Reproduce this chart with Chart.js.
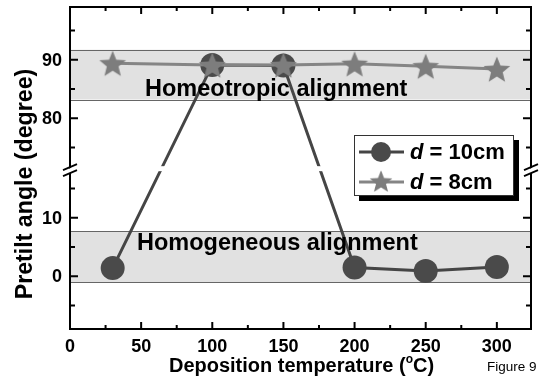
<!DOCTYPE html>
<html>
<head>
<meta charset="utf-8">
<script src="https://cdn.jsdelivr.net/npm/chart.js@4/dist/chart.umd.min.js"></script>
<style>
html,body{margin:0;padding:0;background:#fff;}
canvas{display:block;}
</style>
</head>
<body>
<canvas id="c" width="542" height="383"></canvas>
<script>
// ---- data ----
const temps = [30, 100, 150, 200, 250, 300];
const d10 = [1.4, 89.1, 89.0, 1.5, 0.9, 1.6];
const d8 = [89.4, 89.1, 89.1, 89.3, 88.9, 88.4];
const seriesLabels = ['10cm', '8cm'];
const xMajorTicks = [0, 50, 100, 150, 200, 250, 300];
const xMinorTicks = [25, 75, 125, 175, 225, 275];
const yMajorTicks = [0, 10, 80, 90];
const yMinorTicks = [-5, 5, 15, 75, 85, 95];
const bandRanges = [[-1, 7.7], [83.2, 91.7]];
const bandTexts = ['Homogeneous alignment', 'Homeotropic alignment'];
const xTitle = ['Deposition temperature (', 'o', 'C)'];
const yTitle = 'Pretilt angle (degree)';
const figLabel = 'Figure 9';

// broken axis: values above the break are shifted down
const BREAK_SPLIT = 45, BREAK_SHIFT = 53, BREAK_AT = 18.3;
const tf = v => (v > BREAK_SPLIT ? v - BREAK_SHIFT : v);

const FONT = '"Liberation Sans", Arial, Helvetica, sans-serif';
const CIRCLE_COLOR = '#4a4a4a', CIRCLE_LINE = '#454545';
const STAR_COLOR = '#7d7d7d', STAR_LINE = '#858585';

function makeStar(R, color) {
  const c = document.createElement('canvas');
  const s = Math.ceil(R * 2 + 2);
  c.width = s; c.height = s;
  const g = c.getContext('2d');
  const cx = s / 2, cy = s / 2 + R * 0.1;
  const r = R * 0.44;
  g.beginPath();
  for (let i = 0; i < 10; i++) {
    const rad = i % 2 === 0 ? R : r;
    const a = -Math.PI / 2 + i * Math.PI / 5;
    const px = cx + rad * Math.cos(a), py = cy + rad * Math.sin(a);
    if (i === 0) g.moveTo(px, py); else g.lineTo(px, py);
  }
  g.closePath();
  g.fillStyle = color;
  g.fill();
  return c;
}
const star = makeStar(14, STAR_COLOR);

const decor = {
  id: 'decor',
  beforeDatasetsDraw(chart) {
    const { ctx, chartArea: a, scales: { y } } = chart;
    ctx.save();
    bandRanges.forEach(([lo, hi]) => {
      const y1 = y.getPixelForValue(tf(hi)), y2 = y.getPixelForValue(tf(lo));
      ctx.fillStyle = '#e1e1e1';
      ctx.fillRect(a.left, y1, a.right - a.left, y2 - y1);
      ctx.strokeStyle = '#666';
      ctx.lineWidth = 1;
      ctx.beginPath();
      ctx.moveTo(a.left, Math.round(y1) + 0.5); ctx.lineTo(a.right, Math.round(y1) + 0.5);
      ctx.moveTo(a.left, Math.round(y2) + 0.5); ctx.lineTo(a.right, Math.round(y2) + 0.5);
      ctx.stroke();
    });
    ctx.restore();
  },
  afterDatasetsDraw(chart) {
    const { ctx, chartArea: a, scales: { x, y } } = chart;
    ctx.save();
    // gap in data lines at the axis break
    const yb = y.getPixelForValue(BREAK_AT);
    ctx.fillStyle = '#fff';
    ctx.fillRect(a.left + 2, yb - 3, a.right - a.left - 4, 5);
    // band texts
    ctx.fillStyle = '#000';
    ctx.font = 'bold 23.5px ' + FONT;
    ctx.textBaseline = 'alphabetic';
    ctx.textAlign = 'left';
    ctx.fillText(bandTexts[1], 145, y.getPixelForValue(tf(83.2)) - 4);
    ctx.fillText(bandTexts[0], 137, y.getPixelForValue(tf(-1)) - 32);
    ctx.restore();
  },
  afterDraw(chart) {
    const { ctx, chartArea: a, scales: { x, y } } = chart;
    ctx.save();
    ctx.strokeStyle = '#000';
    ctx.fillStyle = '#000';
    // frame
    ctx.lineWidth = 2;
    ctx.strokeRect(a.left, a.top, a.right - a.left, a.bottom - a.top);
    // ticks (inward, all four sides)
    const tickX = (v, len) => {
      const px = x.getPixelForValue(v);
      ctx.beginPath();
      ctx.moveTo(px, a.bottom); ctx.lineTo(px, a.bottom - len);
      ctx.moveTo(px, a.top); ctx.lineTo(px, a.top + len);
      ctx.stroke();
    };
    const tickY = (v, len) => {
      const py = y.getPixelForValue(tf(v));
      ctx.beginPath();
      ctx.moveTo(a.left, py); ctx.lineTo(a.left + len, py);
      ctx.moveTo(a.right, py); ctx.lineTo(a.right - len, py);
      ctx.stroke();
    };
    xMajorTicks.forEach(v => tickX(v, 7));
    xMinorTicks.forEach(v => tickX(v, 4));
    yMajorTicks.forEach(v => tickY(v, 8));
    yMinorTicks.forEach(v => tickY(v, 5));
    // axis breaks
    const yb = y.getPixelForValue(BREAK_AT);
    [a.left, a.right].forEach(ax => {
      ctx.fillStyle = '#fff';
      ctx.beginPath();
      ctx.moveTo(ax - 7, yb + 2); ctx.lineTo(ax + 7, yb - 4);
      ctx.lineTo(ax + 7, yb + 1); ctx.lineTo(ax - 7, yb + 7);
      ctx.closePath(); ctx.fill();
      ctx.lineWidth = 1.8;
      ctx.beginPath();
      ctx.moveTo(ax - 7, yb + 1); ctx.lineTo(ax + 7, yb - 5);
      ctx.moveTo(ax - 7, yb + 7); ctx.lineTo(ax + 7, yb + 1);
      ctx.stroke();
    });
    // tick labels
    ctx.fillStyle = '#000';
    ctx.font = 'bold 18px ' + FONT;
    ctx.textAlign = 'center';
    ctx.textBaseline = 'middle';
    xMajorTicks.forEach(v => ctx.fillText(String(v), x.getPixelForValue(v), a.bottom + 18));
    ctx.textAlign = 'right';
    yMajorTicks.forEach(v => ctx.fillText(String(v), a.left - 8, y.getPixelForValue(tf(v)) + 1));
    // x title with superscript
    ctx.textBaseline = 'alphabetic';
    ctx.textAlign = 'left';
    const f1 = 'bold 20px ' + FONT, f2 = 'bold 12px ' + FONT;
    ctx.font = f1; const w1 = ctx.measureText(xTitle[0]).width, w3 = ctx.measureText(xTitle[2]).width;
    ctx.font = f2; const w2 = ctx.measureText(xTitle[1]).width;
    const cx = (a.left + a.right) / 2 + 1;
    let sx = cx - (w1 + w2 + w3) / 2;
    const by = 372;
    ctx.font = f1; ctx.fillText(xTitle[0], sx, by); sx += w1;
    ctx.font = f2; ctx.fillText(xTitle[1], sx, by - 9); sx += w2;
    ctx.font = f1; ctx.fillText(xTitle[2], sx, by);
    // y title
    ctx.save();
    ctx.translate(32, 184);
    ctx.rotate(-Math.PI / 2);
    ctx.textAlign = 'center';
    ctx.font = 'bold 23.2px ' + FONT;
    ctx.fillText(yTitle, 0, 0);
    ctx.restore();
    // figure label
    ctx.font = '13.5px ' + FONT;
    ctx.textAlign = 'left';
    ctx.textBaseline = 'middle';
    ctx.fillText(figLabel, 487, 367);
    // legend
    const lx = 354, ly = 135, lw = 160, lh = 61;
    ctx.fillStyle = '#000';
    ctx.fillRect(lx + 5, ly + 5, lw, lh);
    ctx.fillStyle = '#fff';
    ctx.fillRect(lx, ly, lw, lh);
    ctx.lineWidth = 1;
    ctx.strokeStyle = '#333';
    ctx.strokeRect(lx + 0.5, ly + 0.5, lw - 1, lh - 1);
    const rows = [
      { yy: 152, line: CIRCLE_LINE, txt: seriesLabels[0], mark: 'circle' },
      { yy: 182, line: STAR_LINE, txt: seriesLabels[1], mark: 'star' }
    ];
    rows.forEach(r => {
      ctx.strokeStyle = r.line; ctx.lineWidth = 3;
      ctx.beginPath(); ctx.moveTo(359, r.yy); ctx.lineTo(404, r.yy); ctx.stroke();
      if (r.mark === 'circle') {
        ctx.fillStyle = CIRCLE_COLOR;
        ctx.beginPath(); ctx.arc(381, r.yy, 10, 0, Math.PI * 2); ctx.fill();
      } else {
        const w = star.width * 0.85, h = star.height * 0.85;
        ctx.drawImage(star, 381 - w / 2, r.yy - h / 2 - 1, w, h);
      }
      ctx.fillStyle = '#000';
      ctx.textBaseline = 'middle';
      ctx.textAlign = 'left';
      ctx.font = 'italic bold 22px ' + FONT;
      ctx.fillText('d', 410, r.yy + 1);
      const wd = ctx.measureText('d').width;
      ctx.font = 'bold 22px ' + FONT;
      ctx.fillText(' = ' + r.txt, 410 + wd, r.yy + 1);
    });
    ctx.restore();
  }
};

new Chart(document.getElementById('c'), {
  type: 'line',
  data: {
    datasets: [
      {
        label: 'd = ' + seriesLabels[1],
        data: temps.map((t, i) => ({ x: t, y: tf(d8[i]) })),
        borderColor: STAR_LINE, borderWidth: 3,
        pointStyle: star, pointRadius: 14,
        order: 0
      },
      {
        label: 'd = ' + seriesLabels[0],
        data: temps.map((t, i) => ({ x: t, y: tf(d10[i]) })),
        borderColor: CIRCLE_LINE, borderWidth: 3,
        pointStyle: 'circle', pointRadius: 12, pointBorderWidth: 0,
        pointBackgroundColor: CIRCLE_COLOR, pointBorderColor: CIRCLE_COLOR,
        order: 1
      }
    ]
  },
  options: {
    responsive: false, maintainAspectRatio: false, animation: false,
    layout: { autoPadding: false, padding: { top: 7, right: 11, left: 0, bottom: 0 } },
    plugins: { legend: { display: false }, tooltip: { enabled: false } },
    scales: {
      x: { type: 'linear', min: 0, max: 324, grid: { display: false }, border: { display: false },
           ticks: { display: false }, afterFit(s) { s.height = 54; } },
      y: { type: 'linear', min: -9, max: 46, grid: { display: false }, border: { display: false },
           ticks: { display: false }, afterFit(s) { s.width = 70; } }
    }
  },
  plugins: [decor]
});
</script>
</body>
</html>
